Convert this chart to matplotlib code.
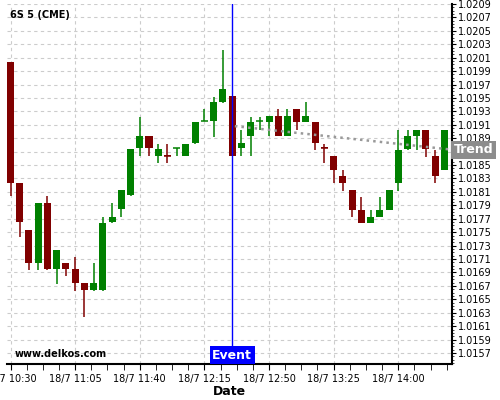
import numpy as np
import matplotlib
matplotlib.use("Agg")
import matplotlib.pyplot as plt
from matplotlib.ticker import MultipleLocator, FixedLocator

# %% Data (5-minute candles, 18/7 10:30 .. 14:25)
times = ["18/7 10:30", "18/7 11:05", "18/7 11:40", "18/7 12:15",
         "18/7 12:50", "18/7 13:25", "18/7 14:00"]

opens = [1.02004, 1.01824, 1.01754, 1.01704, 1.01794, 1.01695, 1.01704, 1.01695,
         1.01674, 1.01664, 1.01664, 1.01765, 1.01784, 1.01805, 1.01875, 1.01893,
         1.01864, 1.01865, 1.01875, 1.01864, 1.01883, 1.01915, 1.01915, 1.01944,
         1.01953, 1.01875, 1.01894, 1.01915, 1.01914, 1.01923, 1.01894, 1.01933,
         1.01914, 1.01914, 1.01877, 1.01863, 1.01834, 1.01813, 1.01783, 1.01764,
         1.01773, 1.01783, 1.01823, 1.01874, 1.01893, 1.01903, 1.01863, 1.01843]
highs = [1.02004, 1.01824, 1.01754, 1.01794, 1.01804, 1.01724, 1.01704, 1.01713,
         1.01674, 1.01704, 1.01773, 1.01794, 1.01813, 1.01874, 1.01922, 1.01893,
         1.01882, 1.01882, 1.01875, 1.01882, 1.01914, 1.01933, 1.01952, 1.02022,
         1.01953, 1.01903, 1.01922, 1.01922, 1.01923, 1.01933, 1.01933, 1.01933,
         1.01944, 1.01914, 1.01882, 1.01863, 1.01842, 1.01813, 1.01803, 1.01783,
         1.01803, 1.01813, 1.01903, 1.01903, 1.01903, 1.01903, 1.01873, 1.01903]
lows = [1.01804, 1.01743, 1.01694, 1.01694, 1.01694, 1.01673, 1.01684, 1.01663,
        1.01624, 1.01663, 1.01663, 1.01763, 1.01773, 1.01804, 1.01863, 1.01863,
        1.01853, 1.01853, 1.01863, 1.01863, 1.01882, 1.01915, 1.01892, 1.01943,
        1.01864, 1.01863, 1.01863, 1.01903, 1.01893, 1.01894, 1.01894, 1.01903,
        1.01914, 1.01873, 1.01853, 1.01823, 1.01812, 1.01772, 1.01763, 1.01763,
        1.01772, 1.01783, 1.01812, 1.01873, 1.01873, 1.01862, 1.01823, 1.01842]
closes = [1.01824, 1.01765, 1.01704, 1.01794, 1.01695, 1.01724, 1.01695, 1.01674,
          1.01664, 1.01674, 1.01764, 1.01773, 1.01813, 1.01874, 1.01893, 1.01875,
          1.01874, 1.01864, 1.01875, 1.01882, 1.01914, 1.01915, 1.01944, 1.01963,
          1.01864, 1.01883, 1.01914, 1.01915, 1.01923, 1.01894, 1.01923, 1.01914,
          1.01923, 1.01883, 1.01876, 1.01843, 1.01823, 1.01783, 1.01764, 1.01773,
          1.01783, 1.01813, 1.01873, 1.01893, 1.01903, 1.01874, 1.01834, 1.01903]

event_idx = 24
trend_x = [24.3, 47.8]
trend_y = [1.01908, 1.01873]

UP, DOWN = "#008000", "#800000"

# %% Plot
fig = plt.figure(figsize=(5, 4), dpi=100)
ax = fig.add_axes([7 / 500, 36 / 400, 445 / 500, 360 / 400])

x = np.arange(len(opens))
o, h, l, c = map(np.array, (opens, highs, lows, closes))
cols = np.where(c >= o, UP, DOWN)
W = 0.76

ax.vlines(x, l, h, colors=cols, linewidth=1.1, zorder=3)
body_lo = np.minimum(o, c)
body_h = np.abs(c - o)
ax.bar(x, body_h, W, bottom=body_lo, color=cols, linewidth=0, zorder=4)
for xi, oi, ci, col in zip(x, o, c, cols):
    if abs(ci - oi) < 0.00002:
        ax.hlines(ci, xi - W / 2, xi + W / 2, colors=col, linewidth=1.1, zorder=4)

# trend line + label
ax.plot(trend_x, trend_y, linestyle=":", color="#999999", linewidth=1.8, zorder=5)
ax.text(1.004, trend_y[1], "Trend", transform=ax.get_yaxis_transform(),
        ha="left", va="center", fontsize=9, fontweight="bold", color="white",
        bbox=dict(boxstyle="square,pad=0.2", fc="#8c8c8c", ec="none"),
        clip_on=False, zorder=10)

# event line + label
ax.axvline(event_idx, color="#0000ff", linewidth=1, zorder=6)
ax.text(event_idx, 0.006, "Event", transform=ax.get_xaxis_transform(),
        ha="center", va="bottom", fontsize=9, fontweight="bold", color="white",
        bbox=dict(boxstyle="square,pad=0.2", fc="#0000ff", ec="none"), zorder=10)

ax.text(0.007, 0.97, "6S 5 (CME)", transform=ax.transAxes, fontsize=7,
        fontweight="bold", va="center", ha="left")
ax.text(0.018, 0.028, "www.delkos.com", transform=ax.transAxes, fontsize=7,
        fontweight="bold", va="center", ha="left")

# axes
ax.set_xlim(-0.38, 47.82)
ax.set_ylim(1.015536, 1.0209)
ax.xaxis.set_major_locator(FixedLocator(np.arange(0, 43, 7)))
ax.set_xticklabels(times)
ax.xaxis.set_minor_locator(MultipleLocator(1.75))
ax.yaxis.set_major_locator(FixedLocator(np.arange(1.0157, 1.02091, 0.0002)))
ax.yaxis.set_major_formatter(plt.FuncFormatter(lambda v, p: f"{v:.4f}"))
ax.yaxis.set_minor_locator(MultipleLocator(0.00005))
ax.yaxis.tick_right()
ax.tick_params(axis="both", labelsize=7, colors="black", width=0.8)
ax.tick_params(axis="x", which="both", length=4, pad=3)
ax.tick_params(axis="y", which="major", length=3, pad=1)
ax.tick_params(axis="y", which="minor", length=1.5, width=0.5)

ax.grid(True, which="major", color="#cccccc", linestyle=(0, (3, 3)), linewidth=0.8)
ax.set_axisbelow(True)
for s in ("left", "top"):
    ax.spines[s].set_visible(False)
for s in ("right", "bottom"):
    ax.spines[s].set_linewidth(1.5)

ax.set_xlabel("Date", fontsize=9, fontweight="bold", labelpad=1)

fig.savefig("out.png", dpi=100)
